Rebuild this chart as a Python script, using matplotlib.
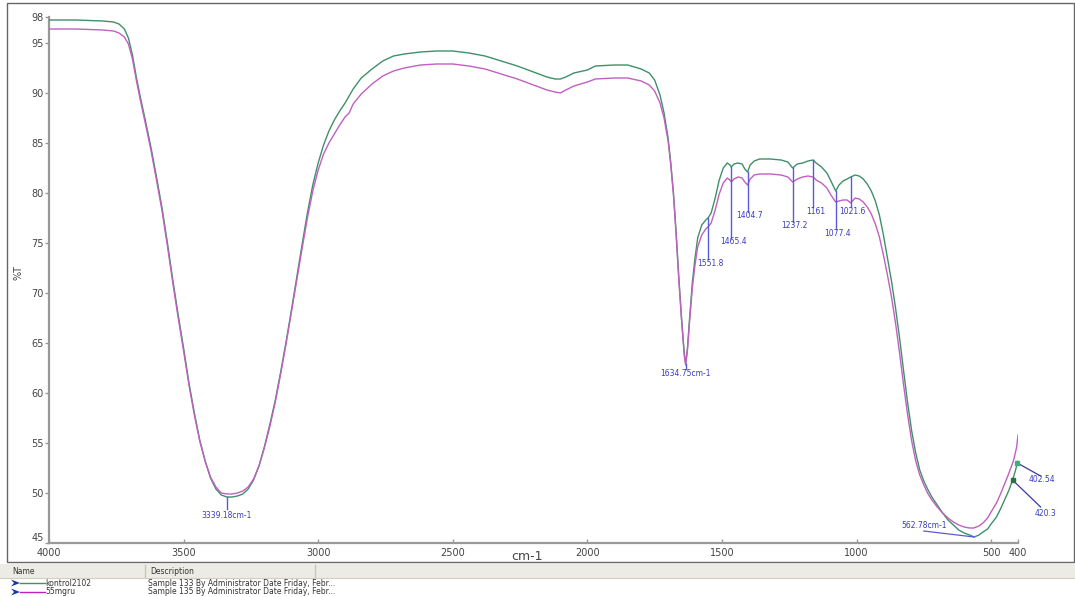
import numpy as np
import matplotlib
matplotlib.use("Agg")
import matplotlib.pyplot as plt
from matplotlib.patches import Rectangle, Polygon
from matplotlib.lines import Line2D

# ---------------- data ----------------
green_wn = [4000, 3900, 3800, 3760, 3740, 3720, 3705, 3690, 3675, 3660, 3640, 3620, 3600, 3580,
            3560, 3540, 3520, 3500, 3480, 3460, 3440, 3420, 3400, 3380, 3360, 3339.18, 3320, 3300,
            3280, 3260, 3240, 3220, 3200, 3180, 3160, 3140, 3120, 3100, 3080, 3060, 3040, 3020,
            3000, 2980, 2960, 2940, 2920, 2900, 2870, 2840, 2800, 2760, 2720, 2680, 2620, 2560,
            2500, 2440, 2380, 2320, 2260, 2200, 2150, 2120, 2100, 2080, 2050, 2000, 1970, 1900,
            1850, 1800, 1770, 1750, 1730, 1715, 1700, 1690, 1680, 1670, 1660, 1650, 1640, 1634.75,
            1628, 1620, 1610, 1600, 1590, 1575, 1560, 1551.8, 1540, 1525, 1510, 1495, 1480, 1470,
            1465.4, 1455, 1440, 1425, 1415, 1404.7, 1395, 1380, 1360, 1320, 1280, 1255, 1237.2,
            1220, 1200, 1180, 1161, 1150, 1130, 1110, 1095, 1077.4, 1065, 1050, 1035, 1021.6, 1005,
            990, 975, 960, 945, 930, 915, 900, 885, 870, 855, 840, 825, 810, 795, 780, 765, 750,
            736, 720, 700, 680, 660, 640, 620, 600, 580, 562.78, 545, 530, 513, 500, 480, 465, 450,
            435, 428, 420.3, 410, 402.54, 400]
green_t = [97.3, 97.3, 97.2, 97.1, 96.9, 96.4, 95.5, 93.8, 91.5, 89.5, 87.0, 84.4, 81.5, 78.5,
           75.0, 71.3, 67.8, 64.5, 61.0, 58.0, 55.3, 53.2, 51.5, 50.4, 49.8, 49.6, 49.6, 49.7,
           49.9, 50.4, 51.3, 52.7, 54.6, 56.8, 59.2, 62.0, 65.0, 68.2, 71.5, 74.8, 78.0, 80.8,
           83.0, 84.8, 86.2, 87.3, 88.2, 89.0, 90.4, 91.5, 92.4, 93.2, 93.7, 93.9, 94.1, 94.2,
           94.2, 94.0, 93.7, 93.2, 92.7, 92.1, 91.6, 91.4, 91.4, 91.6, 92.0, 92.3, 92.7, 92.8,
           92.8, 92.4, 92.0, 91.3, 89.8, 88.0, 85.5, 83.0, 80.0, 76.0, 71.5, 67.5, 64.0, 62.9,
           64.5, 67.5, 71.0, 73.5, 75.5, 76.8, 77.3, 77.5, 78.0, 79.5, 81.3, 82.5, 83.0, 82.8,
           82.6, 82.9, 83.0, 82.9, 82.4, 82.1, 82.8, 83.2, 83.4, 83.4, 83.3, 83.1, 82.5,
           82.9, 83.0, 83.2, 83.3, 83.0, 82.6, 82.0, 81.2, 80.2, 80.8, 81.2, 81.4, 81.6, 81.8,
           81.7, 81.4, 80.9, 80.2, 79.2, 77.8, 75.8, 73.5, 71.2, 68.5, 65.5, 62.2, 59.0, 56.2,
           54.0, 52.3, 51.2, 50.4, 49.6, 48.8, 48.0, 47.3, 46.8, 46.3, 46.0, 45.8, 45.6, 45.8,
           46.1, 46.4, 46.9, 47.6, 48.4, 49.3, 50.2, 50.7, 51.3, 52.2, 53.0, 53.2]

purple_wn = [4000, 3900, 3800, 3760, 3740, 3720, 3705, 3690, 3675, 3660, 3640, 3620, 3600, 3580,
             3560, 3540, 3520, 3500, 3480, 3460, 3440, 3420, 3400, 3380, 3360, 3339, 3320, 3300,
             3280, 3260, 3240, 3220, 3200, 3180, 3160, 3140, 3120, 3100, 3080, 3060, 3040, 3020,
             3000, 2980, 2960, 2940, 2920, 2900, 2885, 2870, 2840, 2800, 2760, 2720, 2680, 2620,
             2560, 2500, 2440, 2380, 2320, 2260, 2200, 2150, 2120, 2100, 2080, 2050, 2000, 1970,
             1900, 1850, 1800, 1770, 1750, 1730, 1715, 1700, 1690, 1680, 1670, 1660, 1650, 1640,
             1634.75, 1628, 1620, 1610, 1600, 1590, 1575, 1560, 1551.8, 1540, 1525, 1510, 1495,
             1480, 1470, 1465.4, 1455, 1440, 1425, 1415, 1404.7, 1395, 1380, 1360, 1320, 1280,
             1255, 1237.2, 1220, 1200, 1180, 1161, 1150, 1130, 1110, 1095, 1077.4, 1065, 1050,
             1035, 1021.6, 1005, 990, 975, 960, 945, 930, 915, 900, 885, 870, 855, 840, 825, 810,
             795, 780, 765, 750, 736, 720, 700, 680, 660, 640, 620, 600, 580, 565, 545, 530, 513,
             500, 480, 465, 450, 435, 416, 405, 400]
purple_t = [96.4, 96.4, 96.3, 96.2, 96.0, 95.6, 94.9, 93.4, 91.2, 89.2, 86.7, 84.1, 81.2, 78.2,
            74.7, 71.0, 67.5, 64.2, 60.8, 57.8, 55.2, 53.2, 51.6, 50.6, 50.0, 49.9, 49.9, 50.0,
            50.2, 50.6, 51.4, 52.7, 54.5, 56.6, 59.0, 61.8, 64.8, 68.0, 71.2, 74.4, 77.5, 80.2,
            82.3, 83.9, 85.0, 85.9, 86.8, 87.6, 88.0, 88.9, 89.9, 90.9, 91.7, 92.2, 92.5, 92.8,
            92.9, 92.9, 92.7, 92.4, 91.9, 91.4, 90.8, 90.3, 90.1, 90.0, 90.3, 90.7, 91.1, 91.4,
            91.5, 91.5, 91.2, 90.8, 90.2, 89.0, 87.5, 85.2, 82.8, 79.8, 75.8, 71.3, 67.3, 63.8,
            62.8, 64.3, 67.2, 70.5, 72.8, 74.6, 75.8, 76.4, 76.6, 77.0, 78.3, 79.9, 81.0,
            81.5, 81.3, 81.1, 81.4, 81.6, 81.5, 81.1, 80.8, 81.4, 81.8, 81.9, 81.9, 81.8,
            81.6, 81.1, 81.4, 81.6, 81.7, 81.6, 81.3, 81.0, 80.5, 79.8, 79.1, 79.2, 79.3,
            79.3, 79.0, 79.5, 79.4, 79.1, 78.6, 77.9, 76.9, 75.6, 73.8, 71.8, 69.6, 67.0, 64.0,
            60.8, 57.8, 55.2, 53.2, 51.8, 50.8, 50.0, 49.3, 48.6, 48.0, 47.5, 47.1, 46.8, 46.6,
            46.5, 46.5, 46.7, 47.0, 47.5, 48.1, 49.0, 49.9, 50.9, 51.9, 53.3, 54.6, 55.8]

series_names = ["kontrol2102", "55mgru"]
series_desc = ["Sample 133 By Administrator Date Friday, Febr...",
               "Sample 135 By Administrator Date Friday, Febr..."]

x_ticks = [4000, 3500, 3000, 2500, 2000, 1500, 1000, 500, 400]
y_ticks = [45, 50, 55, 60, 65, 70, 75, 80, 85, 90, 95]

# peaks labelled under the green curve (wavenumber, label text, label %T)
peak_wn = [1551.8, 1465.4, 1404.7, 1237.2, 1161, 1077.4, 1021.6]
peak_txt = ["1551.8", "1465.4", "1404.7", "1237.2", "1161", "1077.4", "1021.6"]
peak_label_t = [73.0, 75.1, 77.7, 76.7, 78.2, 76.0, 78.2]

# ---------------- style ----------------
GREEN = "#3f9068"
PURPLE = "#c060c0"
LBL = "#3a3ac8"
W, H = 1075, 597

fig = plt.figure(figsize=(W / 100, H / 100), dpi=100)
fig.patch.set_facecolor("white")

def fx(px):
    return px / W

def fy(py):
    return 1 - py / H

ax = fig.add_axes([fx(49), fy(543), (1018 - 49) / W, (543 - 17) / H])
ax.set_facecolor("white")

ax.plot(green_wn, green_t, color=GREEN, lw=1.0, zorder=3)
ax.plot(purple_wn, purple_t, color=PURPLE, lw=1.0, zorder=3)

ax.set_xlim(4000, 400)
ax.set_ylim(45, 97.6)
ax.set_xticks(x_ticks)
ax.set_xticklabels([str(v) for v in x_ticks])
ax.set_yticks(y_ticks + [97.6])
ax.set_yticklabels([str(v) for v in y_ticks] + ["98"])

for s in ["top", "right"]:
    ax.spines[s].set_visible(False)
for s in ["left", "bottom"]:
    ax.spines[s].set_color("#999999")
    ax.spines[s].set_linewidth(1.6)
ax.tick_params(axis="y", direction="out", length=3, width=1, color="#999999",
               labelsize=7, labelcolor="#444444", pad=1)
ax.tick_params(axis="x", direction="in", length=3, width=1, color="#999999",
               labelsize=7, labelcolor="#444444", pad=3.5)
# lift the bottom y label a touch so it sits above "4000" as in the reference
ax.get_yticklabels()[0].set_va("bottom")

fig.text(fx(18), fy(272), "%T", rotation=90, fontsize=7, color="#444444",
         ha="center", va="center")
fig.text(fx(527), fy(556), "cm-1", fontsize=9, color="#444444", ha="center", va="center")

# ---------------- peak annotations ----------------
gwn_asc = np.array(green_wn[::-1], dtype=float)
gt_asc = np.array(green_t[::-1], dtype=float)

def green_at(w):
    return float(np.interp(w, gwn_asc, gt_asc))

for w, txt, lt in zip(peak_wn, peak_txt, peak_label_t):
    ax.plot([w, w], [green_at(w), lt + 0.4], color="#5a5ad8", lw=1.0, zorder=4)
    ax.text(w - 8, lt, txt, fontsize=5.5, color=LBL, ha="center", va="center", zorder=5)

# main minima
ax.plot([1634.75, 1634.75], [62.9, 62.4], color="#5a5ad8", lw=1.0, zorder=4)
ax.text(1634.75, 62.0, "1634.75cm-1", fontsize=5.5, color=LBL, ha="center", va="center")
ax.plot([3339.18, 3339.18], [49.6, 48.4], color="#5a5ad8", lw=1.0, zorder=4)
ax.text(3339.18, 47.7, "3339.18cm-1", fontsize=5.5, color=LBL, ha="center", va="center")

ax.plot([750, 562.78], [46.2, 45.6], color="#5a5ad8", lw=0.9, zorder=4)
ax.text(747, 46.7, "562.78cm-1", fontsize=5.5, color=LBL, ha="center", va="center")

# end labels outside the axes
ax.plot([402.54, 316], [53.0, 51.7], color="#3a3a9a", lw=0.9, clip_on=False, zorder=4)
ax.plot([402.54], [53.0], marker="s", ms=3, color="#3fae78", clip_on=False, zorder=5)
ax.text(312, 51.3, "402.54", fontsize=5.5, color=LBL, ha="center", va="center", clip_on=False)
ax.plot([420.3, 316], [51.3, 48.6], color="#3a3a9a", lw=0.9, clip_on=False, zorder=4)
ax.plot([420.3], [51.3], marker="s", ms=3, color="#2a7050", clip_on=False, zorder=5)
ax.text(297, 47.9, "420.3", fontsize=5.5, color=LBL, ha="center", va="center", clip_on=False)

# ---------------- frame and bottom table ----------------
fig.patches.append(Rectangle((fx(7), fy(562)), (1074 - 7) / W, (562 - 3) / H,
                             transform=fig.transFigure, fill=False,
                             edgecolor="#666666", lw=1.0, zorder=0))
fig.patches.append(Rectangle((fx(0), fy(578)), 1.0, (578 - 564) / H,
                             transform=fig.transFigure, facecolor="#ecebe4",
                             edgecolor="none", zorder=0))
for xx in [145, 315]:
    fig.lines.append(Line2D([fx(xx), fx(xx)], [fy(565), fy(577)], transform=fig.transFigure,
                            color="#c8c6bc", lw=1))
fig.lines.append(Line2D([0, 1], [fy(578), fy(578)], transform=fig.transFigure,
                        color="#d0cec6", lw=0.8))
fig.text(fx(12), fy(571), "Name", fontsize=5.5, color="#333333", va="center")
fig.text(fx(150), fy(571), "Description", fontsize=5.5, color="#333333", va="center")

row_y = [583, 592]
for name, desc, col, ry in zip(series_names, series_desc, [GREEN, "#c020c0"], row_y):
    pts = [(fx(11), fy(ry - 3.5)), (fx(20), fy(ry)), (fx(11), fy(ry + 3.5)),
           (fx(14), fy(ry))]
    fig.patches.append(Polygon(pts, closed=True, transform=fig.transFigure,
                               facecolor="#1a3aa0", edgecolor="none"))
    fig.lines.append(Line2D([fx(20), fx(45)], [fy(ry), fy(ry)], transform=fig.transFigure,
                            color=col, lw=1.0))
    fig.text(fx(45), fy(ry), name, fontsize=5.5, color="#333333", va="center")
    fig.text(fx(148), fy(ry), desc, fontsize=5.5, color="#333333", va="center")

fig.savefig("out.png", dpi=100)
